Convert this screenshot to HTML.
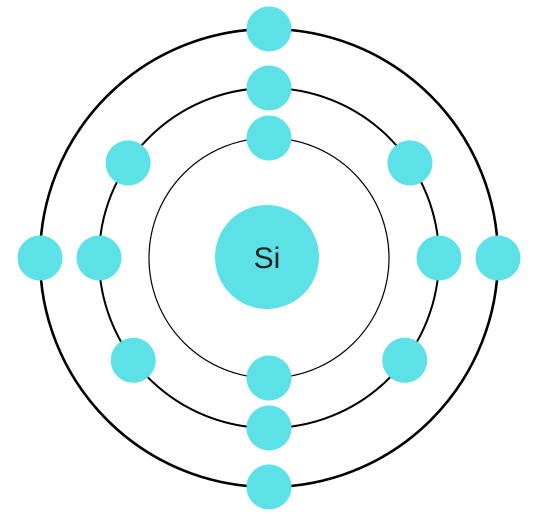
<!DOCTYPE html>
<html>
<head>
<meta charset="utf-8">
<style>
  html,body{margin:0;padding:0;background:#fff;}
  svg{display:block;}
</style>
</head>
<body>
<svg id="chart" width="541" height="516" viewBox="0 0 541 516" xmlns="http://www.w3.org/2000/svg">
  <g id="orbits"></g>
  <circle cx="267" cy="257" r="52" fill="#5ce1e6"/>
  <text x="267" y="268" text-anchor="middle" font-family="Liberation Sans, sans-serif" font-size="30" fill="#222">Si</text>
  <g id="electrons"></g>
</svg>
<script>
const shellRadii = [120, 170, 229];
const shellStroke = [1.2, 2, 2.6];
const electronsPerShell = [2, 8, 4];
const shell1Angles = [-90, 90];
const shell2Angles = [-90, 90, 180, 0, -146, -34, 143, 37];
const shell3Angles = [-90, 90, 180, 0];
const shellAngles = [shell1Angles, shell2Angles, shell3Angles];

const NS = 'http://www.w3.org/2000/svg';
const cx = 269, cy = 258, er = 22.5;
const orbits = document.getElementById('orbits');
const electrons = document.getElementById('electrons');

shellRadii.forEach((r, i) => {
  const c = document.createElementNS(NS, 'circle');
  c.setAttribute('cx', cx); c.setAttribute('cy', cy); c.setAttribute('r', r);
  c.setAttribute('fill', 'none'); c.setAttribute('stroke', '#000');
  c.setAttribute('stroke-width', shellStroke[i]);
  
  
  orbits.appendChild(c);
});

shellAngles.forEach((angles, i) => {
  angles.slice(0, electronsPerShell[i]).forEach((a, j) => {
    const rad = a * Math.PI / 180;
    const e = document.createElementNS(NS, 'circle');
    e.setAttribute('cx', cx + shellRadii[i] * Math.cos(rad));
    e.setAttribute('cy', cy + shellRadii[i] * Math.sin(rad));
    e.setAttribute('r', er);
    e.setAttribute('fill', '#5ce1e6');
    
    
    electrons.appendChild(e);
  });
});
</script>
</body>
</html>
